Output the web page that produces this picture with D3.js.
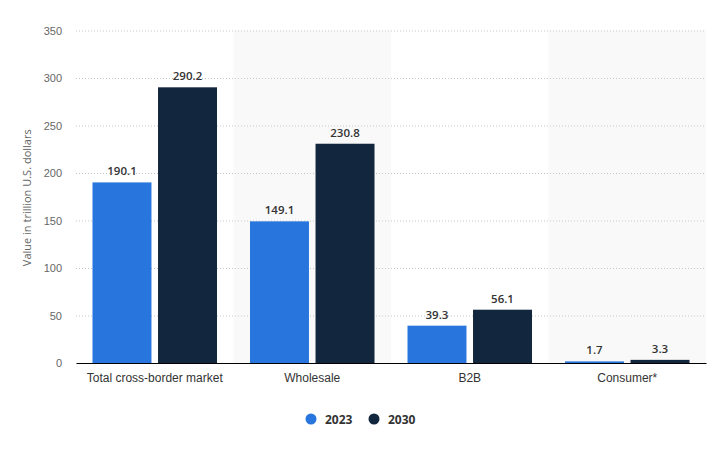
<!DOCTYPE html>
<html><head><meta charset="utf-8">
<script src="https://cdn.jsdelivr.net/npm/d3@7"></script>
<style>body{margin:0;background:#fff;}svg{display:block;font-family:"Open Sans",Roboto,sans-serif;}</style>
</head><body>
<svg id="chart" width="715" height="453"></svg>
<script>
const categories = ["Total cross-border market", "Wholesale", "B2B", "Consumer*"];
const seriesNames = ["2023", "2030"];
const values2023 = [190.1, 149.1, 39.3, 1.7];
const values2030 = [290.2, 230.8, 56.1, 3.3];
const yTicks = [0, 50, 100, 150, 200, 250, 300, 350];
const colors = ["#2876dd", "#12263d"];

const svg = d3.select("#chart");
const m = {left: 76, right: 9, top: 30.5, bottom: 90};
const W = 715, H = 453;
const x0 = d3.scaleBand().domain(categories).range([m.left, W - m.right]).paddingInner(0).paddingOuter(0);
const x1 = d3.scaleBand().domain(seriesNames).range([16.5, x0.bandwidth() - 16.5]).paddingInner(0.1);
const y = d3.scaleLinear().domain([0, 350]).range([H - m.bottom, m.top]);

// alternating band backgrounds
svg.append("g").selectAll("rect").data(categories.filter((d, i) => i % 2 === 1)).join("rect")
  .attr("x", d => x0(d)).attr("width", x0.bandwidth())
  .attr("y", y(350)).attr("height", y(0) - y(350)).attr("fill", "#f9f9f9");

// gridlines
const yAxis = d3.axisLeft(y).tickValues(yTicks).tickSize(-(W - m.right - m.left)).tickPadding(14);
const gy = svg.append("g").attr("transform", `translate(${m.left},0)`).call(yAxis);
gy.select(".domain").remove();
gy.selectAll(".tick line").attr("stroke", "#c8c8c8").attr("stroke-dasharray", "1,2");
gy.selectAll(".tick text").attr("fill", "#666").attr("font-size", 11);
gy.selectAll(".tick").filter(d => d === 0).select("line").remove();

// y title
svg.append("text").attr("transform", `translate(31,${(y(0)+y(350))/2 + 1}) rotate(-90)`)
  .attr("text-anchor", "middle").attr("font-size", 11).attr("fill", "#666")
  .text("Value in trillion U.S. dollars");

const data = categories.map((c, i) => ({cat: c, vals: [values2023[i], values2030[i]]}));
const groups = svg.append("g").selectAll("g").data(data).join("g")
  .attr("transform", d => `translate(${x0(d.cat)},0)`);
groups.selectAll("rect").data(d => d.vals.map((v, j) => ({s: seriesNames[j], v, j}))).join("rect")
  .attr("x", d => x1(d.s)).attr("width", x1.bandwidth())
  .attr("y", d => y(d.v)).attr("height", d => y(0) - y(d.v))
  .attr("fill", d => colors[d.j]);
groups.selectAll("text").data(d => d.vals.map((v, j) => ({s: seriesNames[j], v, j}))).join("text")
  .attr("x", d => x1(d.s) + x1.bandwidth() / 2).attr("y", d => y(d.v) - 7)
  .attr("text-anchor", "middle").attr("font-size", 11.5).attr("font-weight", 600).attr("fill", "#333")
  .text(d => d.v.toFixed(1));

// x axis
const xAxis = d3.axisBottom(x0).tickSize(0).tickPadding(10);
const gx = svg.append("g").attr("transform", `translate(0,${y(0)})`).call(xAxis);
gx.select(".domain").attr("stroke", "#000").attr("stroke-width", 1.2);
gx.selectAll(".tick text").attr("fill", "#333").attr("font-size", 12);

// legend
const legend = svg.append("g");
const lx = [311, 374];
seriesNames.forEach((s, i) => {
  legend.append("circle").attr("cx", lx[i]).attr("cy", 419).attr("r", 5.5).attr("fill", colors[i]);
  legend.append("text").attr("x", lx[i] + 14).attr("y", 423.5).attr("font-size", 12)
    .attr("font-weight", 700).attr("fill", "#333").text(s);
});
</script>
</body></html>
